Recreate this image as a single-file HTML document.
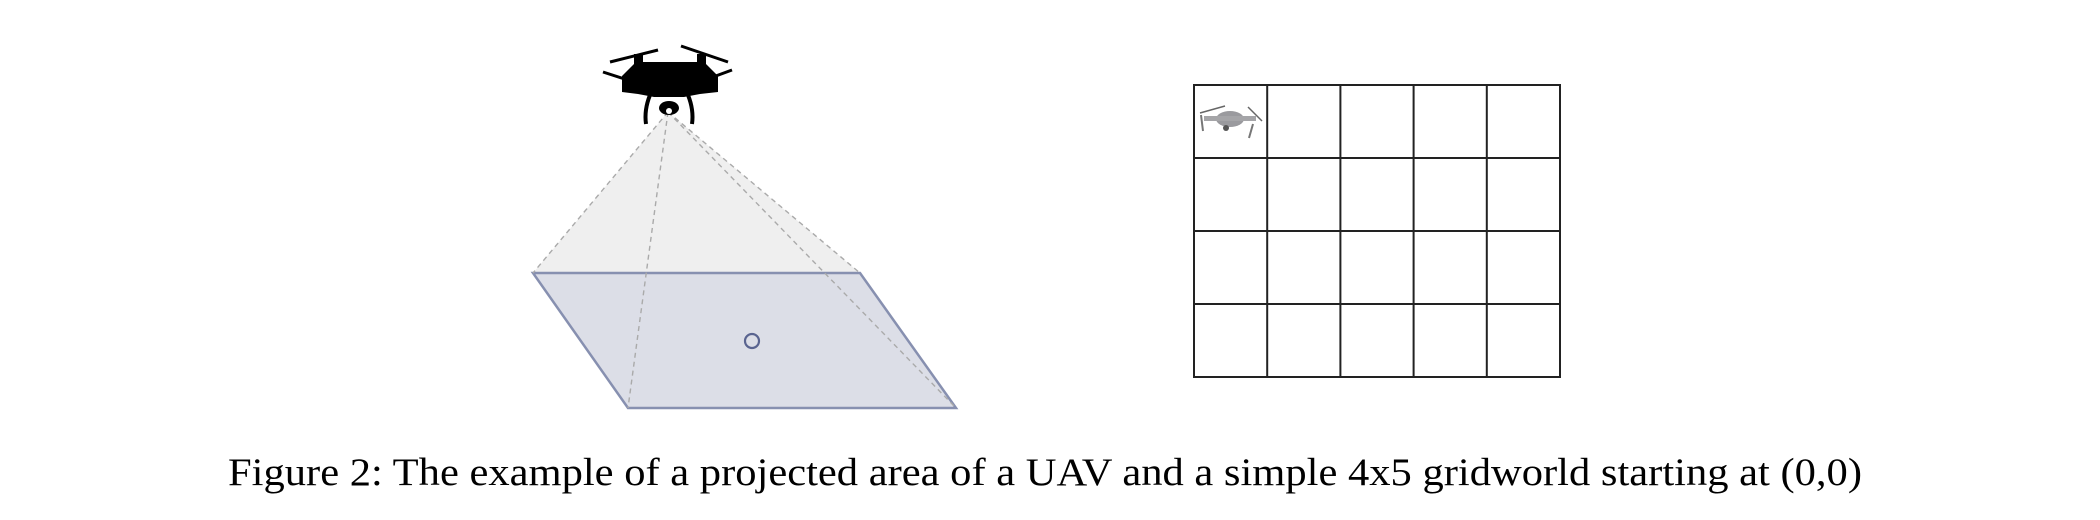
<!DOCTYPE html>
<html><head><meta charset="utf-8"><style>
html,body{margin:0;padding:0;background:#fff;width:2100px;height:520px;overflow:hidden}
svg{display:block}
</style></head><body>
<svg width="2100" height="520" viewBox="0 0 2100 520">
<g>
  <polygon points="668,112 533,273 860,273" fill="#efefef"/>
  <polygon points="533,273 860,273 956,408 628,408" fill="#dcdee7" stroke="#8790b0" stroke-width="2.5"/>
  <g stroke="#aaa" stroke-width="1.4" stroke-dasharray="5,4" fill="none">
    <line x1="668" y1="112" x2="533" y2="273"/>
    <line x1="668" y1="112" x2="860" y2="273"/>
    <line x1="668" y1="112" x2="628" y2="408"/>
    <line x1="668" y1="112" x2="956" y2="408"/>
  </g>
  <circle cx="752" cy="341" r="7" fill="none" stroke="#5a6490" stroke-width="2.2"/>
  <g fill="#000" stroke="#000">
    <line x1="610" y1="62" x2="658" y2="50" stroke-width="3"/>
    <line x1="681" y1="46" x2="728" y2="62" stroke-width="3"/>
    <line x1="603" y1="72" x2="640" y2="84" stroke-width="3"/>
    <line x1="694" y1="84" x2="732" y2="70" stroke-width="3"/>
    <path d="M636 62 L704 62 L718 76 L718 92 L700 94 L684 97 L654 97 L638 94 L622 92 L622 76 Z" stroke="none"/>
    <rect x="634" y="54" width="9" height="14" stroke="none"/>
    <rect x="697" y="54" width="9" height="14" stroke="none"/>
    <path d="M650 95 Q644 110 646 124" fill="none" stroke-width="4"/>
    <path d="M688 95 Q694 110 692 124" fill="none" stroke-width="4"/>
    <ellipse cx="669" cy="108" rx="10" ry="7" stroke="none"/>
    <circle cx="669" cy="111" r="3" fill="#fff" stroke="none"/>
  </g>
</g>
<g stroke="#222" stroke-width="2" fill="none">
  <rect x="1194" y="85" width="366" height="292"/>
  <line x1="1267.2" y1="85" x2="1267.2" y2="377"/>
  <line x1="1340.4" y1="85" x2="1340.4" y2="377"/>
  <line x1="1413.6" y1="85" x2="1413.6" y2="377"/>
  <line x1="1486.8" y1="85" x2="1486.8" y2="377"/>
  <line x1="1194" y1="158" x2="1560" y2="158"/>
  <line x1="1194" y1="231" x2="1560" y2="231"/>
  <line x1="1194" y1="304" x2="1560" y2="304"/>
</g>
<g>
  <line x1="1200" y1="113" x2="1225" y2="106" stroke="#666" stroke-width="1.5"/>
  <line x1="1248" y1="107" x2="1262" y2="121" stroke="#666" stroke-width="1.5"/>
  <line x1="1201" y1="115" x2="1203" y2="131" stroke="#777" stroke-width="2"/>
  <line x1="1253" y1="124" x2="1249" y2="138" stroke="#777" stroke-width="2"/>
  <ellipse cx="1230" cy="119" rx="14" ry="8" fill="#9a9a9e"/>
  <rect x="1204" y="116" width="52" height="5" fill="#a5a5a8"/>
  <circle cx="1226" cy="128" r="3" fill="#555"/>
</g>
<text x="228" y="485" font-family="'Liberation Serif', serif" font-size="39" fill="#000" textLength="1634" lengthAdjust="spacingAndGlyphs">Figure 2: The example of a projected area of a UAV and a simple 4x5 gridworld starting at (0,0)</text>
</svg>
</body></html>
